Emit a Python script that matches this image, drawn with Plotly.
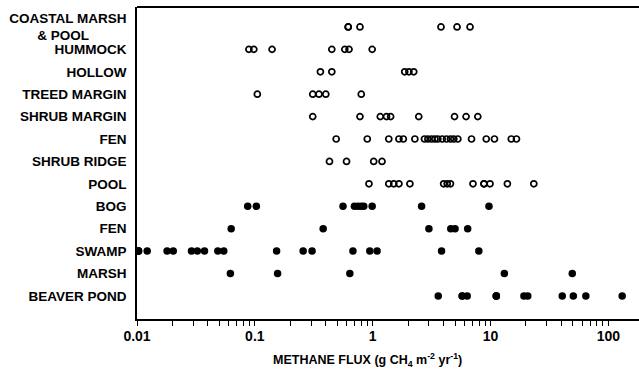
import plotly.graph_objects as go

# Category labels (top to bottom)
categories = ["COASTAL MARSH<br>& POOL\u00a0\u00a0\u00a0\u00a0\u00a0\u00a0\u00a0\u00a0\u00a0\u00a0",
              "HUMMOCK", "HOLLOW", "TREED MARGIN", "SHRUB MARGIN", "FEN",
              "SHRUB RIDGE", "POOL", "BOG", "FEN", "SWAMP", "MARSH", "BEAVER POND"]

# Methane flux values (g CH4 m-2 yr-1)
coastal_marsh_pool = [0.62, 0.62, 0.78, 3.8, 5.2, 6.7]
hummock = [0.089, 0.098, 0.14, 0.45, 0.58, 0.63, 0.99]
hollow = [0.36, 0.45, 1.87, 2.03, 2.23]
treed_margin = [0.105, 0.31, 0.35, 0.40, 0.80]
shrub_margin = [0.31, 0.78, 1.16, 1.31, 1.42, 2.46, 4.95, 6.2, 7.8]
fen_open = [0.49, 0.90, 1.37, 1.67, 1.82, 2.28, 2.75, 2.94, 3.16, 3.37, 3.57,
            3.89, 4.23, 4.57, 4.88, 5.28, 6.9, 9.2, 10.8, 15.0, 16.6]
shrub_ridge = [0.43, 0.60, 1.02, 1.20]
pool = [0.93, 1.37, 1.51, 1.67, 2.07, 4.0, 4.29, 4.57, 7.1, 8.8, 8.8, 9.9, 13.9, 23.3]
bog = [0.087, 0.103, 0.56, 0.70, 0.75, 0.80, 0.84, 0.99, 2.6, 9.7]
fen_filled = [0.063, 0.38, 3.0, 4.6, 5.0, 6.4]
swamp = [0.0103, 0.0103, 0.0103, 0.0122, 0.018, 0.0203, 0.029, 0.0325, 0.0374,
         0.0485, 0.0545, 0.153, 0.257, 0.306, 0.68, 0.945, 1.09, 3.84, 7.96]
marsh = [0.062, 0.156, 0.64, 13.1, 49.4]
beaver_pond = [3.6, 5.75, 5.75, 6.34, 11.2, 11.2, 11.2, 19.2, 20.7, 40.6, 50.4, 64.4, 131]

open_rows = [coastal_marsh_pool, hummock, hollow, treed_margin, shrub_margin,
             fen_open, shrub_ridge, pool]
filled_rows = [bog, fen_filled, swamp, marsh, beaver_pond]

major_ticks = [0.01, 0.1, 1, 10, 100]
major_labels = ["0.01", "0.1", "1", "10", "100"]

FONT = "Liberation Sans, Arial, Helvetica, sans-serif"

fig = go.Figure()

ox, oy = [], []
for i, vals in enumerate(open_rows):
    ox += vals
    oy += [i] * len(vals)
fig.add_trace(go.Scatter(
    x=ox, y=oy, mode="markers",
    marker=dict(symbol="circle-open", size=6, color="black", line=dict(width=1.7, color="black")),
    showlegend=False))

fx, fy = [], []
for j, vals in enumerate(filled_rows):
    fx += vals
    fy += [len(open_rows) + j] * len(vals)
fig.add_trace(go.Scatter(
    x=fx, y=fy, mode="markers",
    marker=dict(symbol="circle", size=7.5, color="black"),
    showlegend=False))

minor_vals = [m * 10 ** e for e in range(-2, 3) for m in range(2, 10)]

fig.update_layout(
    width=639, height=374,
    margin=dict(l=137, r=0, t=7, b=55),
    plot_bgcolor="white", paper_bgcolor="white",
    font=dict(family=FONT, color="black", size=13, weight="bold"),
    xaxis=dict(
        type="log", range=[-2, 2.26],
        tickmode="array", tickvals=major_ticks, ticktext=major_labels,
        ticks="outside", ticklen=5, tickwidth=1.2, tickcolor="black",
        ticklabelstandoff=-2,
        showline=True, linewidth=1.6, linecolor="black",
        showgrid=False, zeroline=False,
        tickfont=dict(family=FONT, size=14, color="black", weight="bold"),
        minor=dict(tickmode="array", tickvals=minor_vals, ticks="outside",
                   ticklen=5, tickwidth=1, tickcolor="black", showgrid=False),
    ),
    yaxis=dict(
        range=[13.03, -0.89],
        tickmode="array", tickvals=list(range(len(categories))), ticktext=categories,
        ticks="", ticklabelstandoff=6,
        showline=True, linewidth=1.6, linecolor="black",
        showgrid=False, zeroline=False,
        tickfont=dict(family=FONT, size=13.5, color="black", weight="bold"),
    ),
    shapes=[dict(type="line", xref="paper", yref="paper", x0=0, x1=1, y0=1, y1=1,
                 line=dict(color="black", width=2))],
    annotations=[dict(
        text="METHANE FLUX (g CH<sub>4</sub> m<sup>-2</sup> yr<sup>-1</sup>)",
        xref="paper", yref="paper", x=0.46, y=0, yshift=-41,
        xanchor="center", yanchor="middle", showarrow=False,
        font=dict(family=FONT, size=12.5, color="black", weight="bold"))],
)

fig.write_html("out.html", config={"displayModeBar": False},
               post_script="document.body.style.margin='0';")
